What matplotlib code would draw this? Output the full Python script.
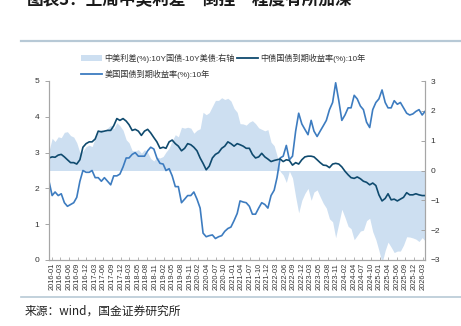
import numpy as np
import pandas as pd
import matplotlib
matplotlib.use("Agg")
import matplotlib.pyplot as plt
from matplotlib.patches import Patch
from matplotlib.lines import Line2D

plt.rcParams["font.family"] = ["Liberation Sans", "Noto Sans CJK SC", "DejaVu Sans"]

# ==========================
# DATOS (mensuales, 2016-01 .. 2026-03)
# ==========================

months = pd.date_range("2016-01-01", "2026-03-01", freq="MS")

# 中债国债到期收益率:10年
cn_10y = [
    2.85, 2.88, 2.87, 2.93, 2.95, 2.88, 2.80, 2.72, 2.72, 2.68, 2.80, 3.15,
    3.25, 3.30, 3.30, 3.38, 3.60, 3.58, 3.60, 3.62, 3.62, 3.75, 3.95, 3.90,
    3.95, 3.88, 3.78, 3.62, 3.65, 3.60, 3.48, 3.60, 3.65, 3.55, 3.42, 3.30,
    3.12, 3.15, 3.12, 3.30, 3.35, 3.25, 3.18, 3.05, 3.12, 3.25, 3.22, 3.15,
    3.05, 2.85, 2.70, 2.52, 2.62, 2.85, 2.95, 3.00, 3.12, 3.18, 3.30, 3.25,
    3.18, 3.25, 3.22, 3.18, 3.12, 3.12, 2.95, 2.85, 2.88, 2.98, 2.88, 2.82,
    2.75, 2.78, 2.80, 2.82, 2.75, 2.80, 2.78, 2.65, 2.72, 2.68, 2.80, 2.88,
    2.90, 2.90, 2.88, 2.80, 2.72, 2.65, 2.64, 2.58, 2.68, 2.70, 2.68, 2.60,
    2.48, 2.38, 2.30, 2.28, 2.32, 2.27, 2.20, 2.17, 2.10, 2.15, 2.08, 1.82,
    1.65, 1.72, 1.85, 1.68, 1.70, 1.65, 1.70, 1.75, 1.88, 1.82, 1.82, 1.85,
    1.82, 1.80, 1.80,
]

# 美国国债到期收益率:10年
us_10y = [
    2.20, 1.80, 1.90, 1.80, 1.85, 1.60, 1.50, 1.55, 1.60, 1.75, 2.20, 2.50,
    2.45, 2.45, 2.50, 2.30, 2.30, 2.20, 2.30, 2.20, 2.10, 2.35, 2.35, 2.40,
    2.60, 2.85, 2.85, 2.95, 3.00, 2.90, 2.90, 2.90, 3.05, 3.15, 3.10, 2.85,
    2.70, 2.68, 2.50, 2.55, 2.35, 2.05, 2.05, 1.60, 1.70, 1.80, 1.80, 1.90,
    1.70, 1.45, 0.75, 0.65, 0.68, 0.70, 0.60, 0.65, 0.68, 0.80, 0.88, 0.92,
    1.10, 1.30, 1.65, 1.62, 1.60, 1.50, 1.28, 1.28, 1.45, 1.60, 1.55, 1.45,
    1.80, 1.95, 2.30, 2.85, 2.90, 3.20, 2.80, 2.90, 3.60, 4.10, 3.80, 3.65,
    3.50, 3.90, 3.60, 3.45, 3.60, 3.75, 3.90, 4.20, 4.40, 4.95, 4.45, 3.90,
    4.05, 4.25, 4.25, 4.60, 4.50, 4.30, 4.20, 3.85, 3.70, 4.20, 4.40, 4.50,
    4.75, 4.40, 4.25, 4.25, 4.45, 4.35, 4.40, 4.25, 4.10, 4.05, 4.08, 4.15,
    4.20, 4.05, 4.15,
]

# 中美利差 = 10Y国债 - 10Y美债
spread = np.array(cn_10y) - np.array(us_10y)

tick_labels = [
    "2016-01", "2016-03", "2016-06", "2016-09", "2016-12", "2017-03", "2017-06",
    "2017-09", "2017-12", "2018-03", "2018-05", "2018-08", "2018-11", "2019-02",
    "2019-05", "2019-08", "2019-11", "2020-02", "2020-04", "2020-07", "2020-10",
    "2021-01", "2021-04", "2021-07", "2021-10", "2021-12", "2022-03", "2022-06",
    "2022-09", "2022-12", "2023-03", "2023-05", "2023-08", "2023-11", "2024-02",
    "2024-04", "2024-07", "2024-10", "2025-01", "2025-04", "2025-06", "2025-09",
    "2025-12", "2026-03",
]

label_spread = "中美利差(%):10Y国债-10Y美债:右轴"
label_cn = "中债国债到期收益率(%):10年"
label_us = "美国国债到期收益率(%):10年"

# ==========================
# COLORES
# ==========================
C_FILL = "#cddff1"
C_CN = "#0f4a6e"
C_US = "#3d7cc0"
C_AXIS = "#a6a6a6"
C_TEXT = "#333333"

# ==========================
# FIGURA
# ==========================
fig = plt.figure(figsize=(4.61, 3.26), dpi=100)
W, H = 461, 326

ax = fig.add_axes([49 / W, 1 - 260 / H, (425 - 49) / W, (260 - 81) / H])
ax2 = ax.twinx()
ax.set_zorder(ax2.get_zorder() + 1)
ax.patch.set_visible(False)

x = months.to_pydatetime()
ax2.fill_between(x, spread, 0, color=C_FILL, lw=0)
ax.plot(x, us_10y, color=C_US, lw=1.2)
ax.plot(x, cn_10y, color=C_CN, lw=1.2)

ax.set_ylim(0, 5)
ax2.set_ylim(-3, 3)
ax.set_yticks(range(0, 6))
ax2.set_yticks(range(-3, 4))

x0 = matplotlib.dates.date2num(x[0])
x1 = matplotlib.dates.date2num(x[-1])
ax.set_xlim(x0, x1)
span = x1 - x0
ticks = np.linspace(x0 + 0.007 * span, x1 - 0.006 * span, len(tick_labels))
ax.set_xticks(ticks)
ax.set_xticklabels(tick_labels, rotation=90, fontsize=5.3, color=C_TEXT)

for a in (ax, ax2):
    a.spines["top"].set_visible(False)
    for s in ("left", "right", "bottom"):
        a.spines[s].set_color(C_AXIS)
        a.spines[s].set_linewidth(0.8)

ax.tick_params(axis="y", direction="out", length=3, width=0.7, color=C_AXIS,
               labelsize=6, labelcolor=C_TEXT, pad=4)
ax.tick_params(axis="x", direction="in", length=2, width=0.6, color=C_AXIS,
               pad=2)
ax2.tick_params(axis="y", direction="in", length=3, width=0.7, color=C_AXIS,
                labelsize=6, labelcolor=C_TEXT, pad=4)

# Leyenda
handles = [
    Patch(facecolor=C_FILL, edgecolor="none"),
    Line2D([], [], color=C_US, lw=1.3),
    Line2D([], [], color=C_CN, lw=1.3),
]
fig.legend(handles, [label_spread, label_us, label_cn], ncol=2,
           loc="upper left", bbox_to_anchor=(78 / W, 1 - 50 / H),
           frameon=False, fontsize=5.9, handlelength=2.5, handleheight=0.7,
           handletextpad=0.3, columnspacing=0.3, labelspacing=0.85,
           labelcolor=C_TEXT, borderaxespad=0)

# Título (cortado arriba, igual que en la referencia)
fig.text(27 / W, 1 - 0.5 / H, "图表3：上周中美利差“倒挂”程度有所加深",
         fontsize=12, fontweight="bold", style="italic", color="#1a1a1a",
         va="center", ha="left", family=["Noto Sans CJK SC", "DejaVu Sans"])

# Líneas separadoras
fig.add_artist(Line2D([21 / W, 1], [1 - 41 / H, 1 - 41 / H],
                      transform=fig.transFigure, color="#b7c9d6", lw=1.6))
fig.add_artist(Line2D([21 / W, 1], [1 - 297 / H, 1 - 297 / H],
                      transform=fig.transFigure, color="#b7c9d6", lw=1.2))

fig.text(25 / W, 1 - 311 / H, "来源：wind，国金证券研究所", fontsize=8.5,
         color="#222222", va="center", ha="left",
         family=["Noto Sans CJK SC", "DejaVu Sans"])

fig.savefig("out.png", dpi=100)
